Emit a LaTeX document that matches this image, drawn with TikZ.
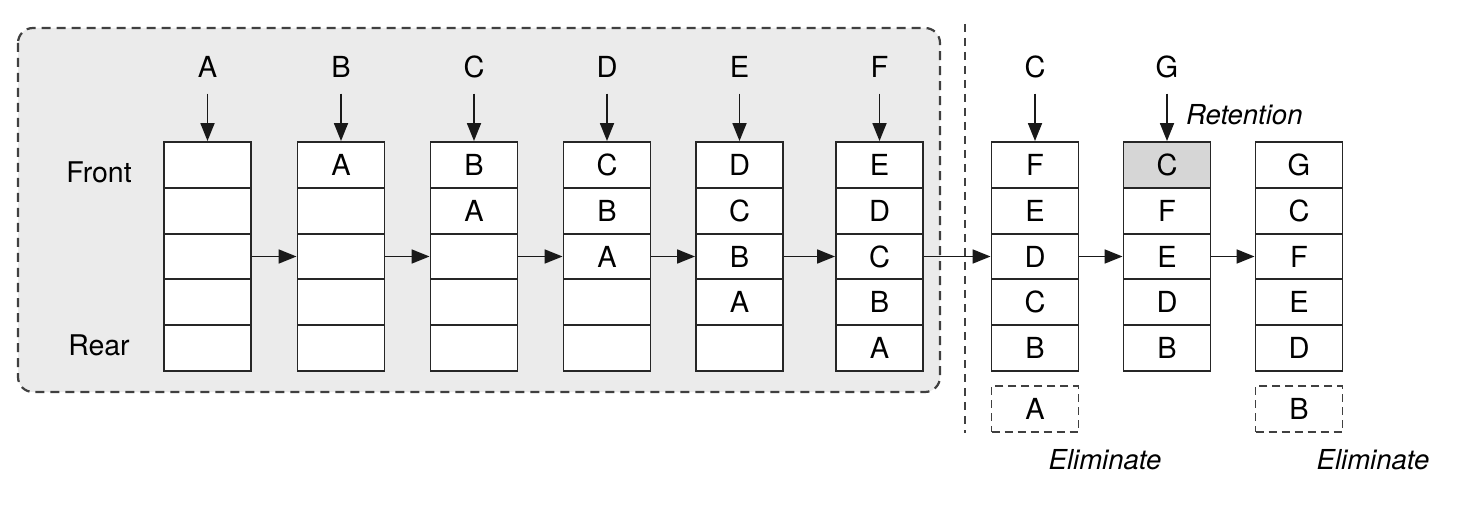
\documentclass[tikz,border=0pt]{standalone}
\usepackage{fontspec}
\setmainfont{TeX Gyre Heros}
\usetikzlibrary{arrows.meta}
\definecolor{regionfill}{HTML}{EBEBEB}
\definecolor{hifill}{HTML}{D6D6D6}
\definecolor{dashgray}{HTML}{404040}
\tikzset{
  cell/.style={draw=black!85, line width=1.9pt, fill=white, minimum width=87pt,
    minimum height=45.8pt, inner sep=0pt, font=\fontsize{29}{31}\selectfont},
  hicell/.style={cell, fill=hifill},
  elimbox/.style={cell, fill=none, draw=dashgray, dash pattern=on 8pt off 5pt},
  inlabel/.style={inner sep=0pt, text height=21pt, text depth=0pt, font=\fontsize{29}{31}\selectfont},
  sidelabel/.style={inner sep=0pt, font=\fontsize{28.5}{31}\selectfont},
  note/.style={inner sep=0pt, font=\fontsize{27.5}{30}\selectfont\itshape},
  arr/.style={line width=1.8pt, draw=black!90, -{Triangle[length=18pt,width=14pt]}},
  inarr/.style={arr, shorten <=16pt},
  region/.style={draw=dashgray, fill=regionfill, line width=2.2pt,
    dash pattern=on 9pt off 6pt, rounded corners=15pt},
  divider/.style={draw=dashgray, line width=1.8pt, dash pattern=on 8pt off 6pt}
}
% #1 style of first cell, #2 name, #3 x centre, #4..#8 cell contents (front to rear)
\newcommand\qcol[8][cell]{%
  \node[#1]  (#2-1) at (#3,164.9) {#4};
  \node[cell] (#2-2) at (#3,210.7) {#5};
  \node[cell] (#2-3) at (#3,256.5) {#6};
  \node[cell] (#2-4) at (#3,302.3) {#7};
  \node[cell] (#2-5) at (#3,348.1) {#8};
}
\begin{document}
\begin{tikzpicture}[x=1pt,y=-1pt]
\useasboundingbox (0,0) rectangle (1457,505);
% background region
\draw[region] (18,28) rectangle (940,392);
% divider
\coordinate (divtop) at (965,24);
\coordinate (divbot) at (965,433);
\draw[divider] (divtop) -- (divbot);

% side labels
\node[sidelabel] (front) at (99,172) {Front};
\node[sidelabel] (rear) at (99,345) {Rear};

% queues
\qcol{q1}{207.5}{}{}{}{}{}
\qcol{q2}{341}{A}{}{}{}{}
\qcol{q3}{474}{B}{A}{}{}{}
\qcol{q4}{607}{C}{B}{A}{}{}
\qcol{q5}{739.5}{D}{C}{B}{A}{}
\qcol{q6}{879.5}{E}{D}{C}{B}{A}
\qcol{q7}{1035}{F}{E}{D}{C}{B}
\qcol[hicell]{q8}{1167}{C}{F}{E}{D}{B}
\qcol{q9}{1299}{G}{C}{F}{E}{D}

% incoming letters
\node[inlabel] (in1) at (207.5,67) {A};
\node[inlabel] (in2) at (341,67) {B};
\node[inlabel] (in3) at (474,67) {C};
\node[inlabel] (in4) at (607,67) {D};
\node[inlabel] (in5) at (739.5,67) {E};
\node[inlabel] (in6) at (879.5,67) {F};
\node[inlabel] (in7) at (1035,67) {C};
\node[inlabel] (in8) at (1167,67) {G};
\foreach \i in {1,...,8}{
  \draw[inarr] (in\i.south) -- (q\i-1.north);
}

% transitions
\foreach \a/\b in {1/2,2/3,3/4,4/5,5/6,6/7,7/8,8/9}{
  \draw[arr] (q\a-3.east) -- (q\b-3.west);
}

% eliminated items
\node[elimbox] (elimA) at (1035,409) {A};
\node[elimbox] (elimB) at (1299,409) {B};

% notes
\node[note, anchor=west] (retention) at (1186,115) {Retention};
\node[note] (elim1) at (1105,460) {Eliminate};
\node[note] (elim2) at (1373,460) {Eliminate};
\end{tikzpicture}
\end{document}
